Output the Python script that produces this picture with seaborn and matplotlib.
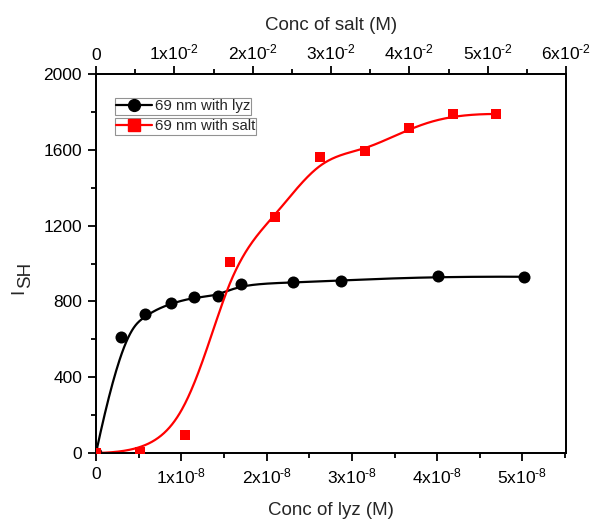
import numpy as np
import matplotlib
matplotlib.use("Agg")
import matplotlib.pyplot as plt
import seaborn as sns
import pandas as pd
from matplotlib.lines import Line2D
from matplotlib.ticker import MultipleLocator, FuncFormatter

# ---- data ----
lyz_conc = [0.0, 0.29e-8, 0.57e-8, 0.88e-8, 1.15e-8, 1.43e-8, 1.70e-8, 2.31e-8, 2.87e-8, 4.01e-8, 5.02e-8]
lyz_ish = [0, 610, 732, 790, 821, 830, 890, 900, 910, 932, 930]
salt_conc = [0.0, 0.56e-2, 1.14e-2, 1.71e-2, 2.29e-2, 2.86e-2, 3.44e-2, 4.00e-2, 4.56e-2, 5.11e-2]
salt_ish = [0, 5, 95, 1010, 1247, 1563, 1595, 1716, 1789, 1789]
labels = ["69 nm with lyz", "69 nm with salt"]

sns.set_theme(style="ticks")
plt.rcParams['font.family'] = ['Liberation Sans', 'DejaVu Sans']
plt.rcParams['mathtext.default'] = 'regular'
plt.rcParams['mathtext.fontset'] = 'custom'
plt.rcParams['mathtext.rm'] = 'Liberation Sans'
plt.rcParams['mathtext.it'] = 'Liberation Sans'


def bspline(px, py, k=3, num=500):
    px = np.asarray(px, float); py = np.asarray(py, float)
    n = len(px)
    inner = np.linspace(0, 1, n - k + 1)
    t = np.concatenate([[0.0] * k, inner, [1.0] * k])
    u = np.linspace(0, 1, num)
    m = len(t) - 1
    B = np.zeros((m, num))
    for i in range(m):
        B[i] = (t[i] <= u) & (u < t[i + 1])
    last = np.max(np.where(t[:-1] < t[1:])[0])
    B[last, -1] = 1
    for p in range(1, k + 1):
        Bn = np.zeros((m - p, num))
        for i in range(m - p):
            d1 = t[i + p] - t[i]
            d2 = t[i + p + 1] - t[i + 1]
            a = (u - t[i]) / d1 * B[i] if d1 > 0 else 0
            b = (t[i + p + 1] - u) / d2 * B[i + 1] if d2 > 0 else 0
            Bn[i] = a + b
        B = Bn
    return px @ B, py @ B


W, H = 592, 520
fig = plt.figure(figsize=(W / 100, H / 100), dpi=100)
ax = fig.add_axes([96 / W, 1 - 453 / H, 470 / W, 379 / H])
ax2 = ax.twiny()

lx, ly = bspline(lyz_conc, lyz_ish)
sx, sy = bspline(salt_conc, salt_ish)

df_l = pd.DataFrame({"x": lx, "y": ly})
df_s = pd.DataFrame({"x": sx, "y": sy})

sns.lineplot(data=df_l, x="x", y="y", sort=False, color="black", lw=1.6, ax=ax, legend=False)
sns.scatterplot(x=lyz_conc, y=lyz_ish, color="black", marker="o", s=75, edgecolor="black", linewidth=0, ax=ax, legend=False, zorder=3)
sns.lineplot(data=df_s, x="x", y="y", sort=False, color="#ff0000", lw=1.6, ax=ax2, legend=False)
sns.scatterplot(x=salt_conc, y=salt_ish, color="#ff0000", marker="s", s=60, edgecolor="#ff0000", linewidth=0, ax=ax2, legend=False, zorder=3)

ax.set_xlim(0, 5.51e-8)
ax2.set_xlim(0, 0.06)
ax.set_ylim(0, 2000)
ax2.set_ylim(0, 2000)
ax.set_ylabel("")
ax2.set_ylabel("")


def sci(exp):
    def f(v, pos):
        if abs(v) < 1e-20:
            return "0"
        m = v / 10 ** exp
        return f"{int(round(m))}x10$^{{\\text{{{exp}}}}}$"
    return f


ax.xaxis.set_major_locator(MultipleLocator(1e-8))
ax.xaxis.set_minor_locator(MultipleLocator(0.5e-8))
ax.xaxis.set_major_formatter(FuncFormatter(sci(-8)))
ax2.xaxis.set_major_locator(MultipleLocator(0.01))
ax2.xaxis.set_minor_locator(MultipleLocator(0.005))
ax2.xaxis.set_major_formatter(FuncFormatter(sci(-2)))
ax.yaxis.set_major_locator(MultipleLocator(400))
ax.yaxis.set_minor_locator(MultipleLocator(200))

for a in (ax, ax2):
    for s in a.spines.values():
        s.set_linewidth(1.3)
        s.set_color("black")
    a.tick_params(which="major", length=6, width=1.3, direction="out", labelsize=12.5, colors="black", pad=3)
    a.tick_params(which="minor", length=3.5, width=1.3, direction="out", colors="black")

ax.tick_params(axis="y", which="both", right=False, pad=4)
ax2.tick_params(axis="x", which="both", bottom=False, pad=2)
ax.tick_params(axis="x", which="both", top=False, pad=4)
ax2.tick_params(axis="y", which="both", left=False, right=False, labelleft=False, labelright=False)

ax.set_xlabel("Conc of lyz (M)", fontsize=13.5, labelpad=11)
ax2.set_xlabel("Conc of salt (M)", fontsize=13.5, labelpad=9)

# y label I_SH (Origin-style subscript, same size, lowered)
fig.text(18.5 / W, 1 - 294 / H, "I", rotation=90, fontsize=13.5, ha="center", va="bottom")
fig.text(25.5 / W, 1 - 288 / H, "SH", rotation=90, fontsize=13.5, ha="center", va="bottom")

h1 = Line2D([], [], color="black", lw=1.6, marker="o", ms=8.5)
h2 = Line2D([], [], color="#ff0000", lw=1.6, marker="s", ms=8)
common = dict(loc="upper left", fontsize=10.8, frameon=True, fancybox=False, edgecolor="#777777",
              handlelength=2.4, handletextpad=0.15, borderpad=0.1, borderaxespad=0)
leg1 = ax.legend([h1], [labels[0]], bbox_to_anchor=(0.04, 0.937), **common)
leg1.get_frame().set_linewidth(0.8)
ax.add_artist(leg1)
leg2 = ax.legend([h2], [labels[1]], bbox_to_anchor=(0.04, 0.884), **common)
leg2.get_frame().set_linewidth(0.8)

fig.savefig("out.png", dpi=100)
